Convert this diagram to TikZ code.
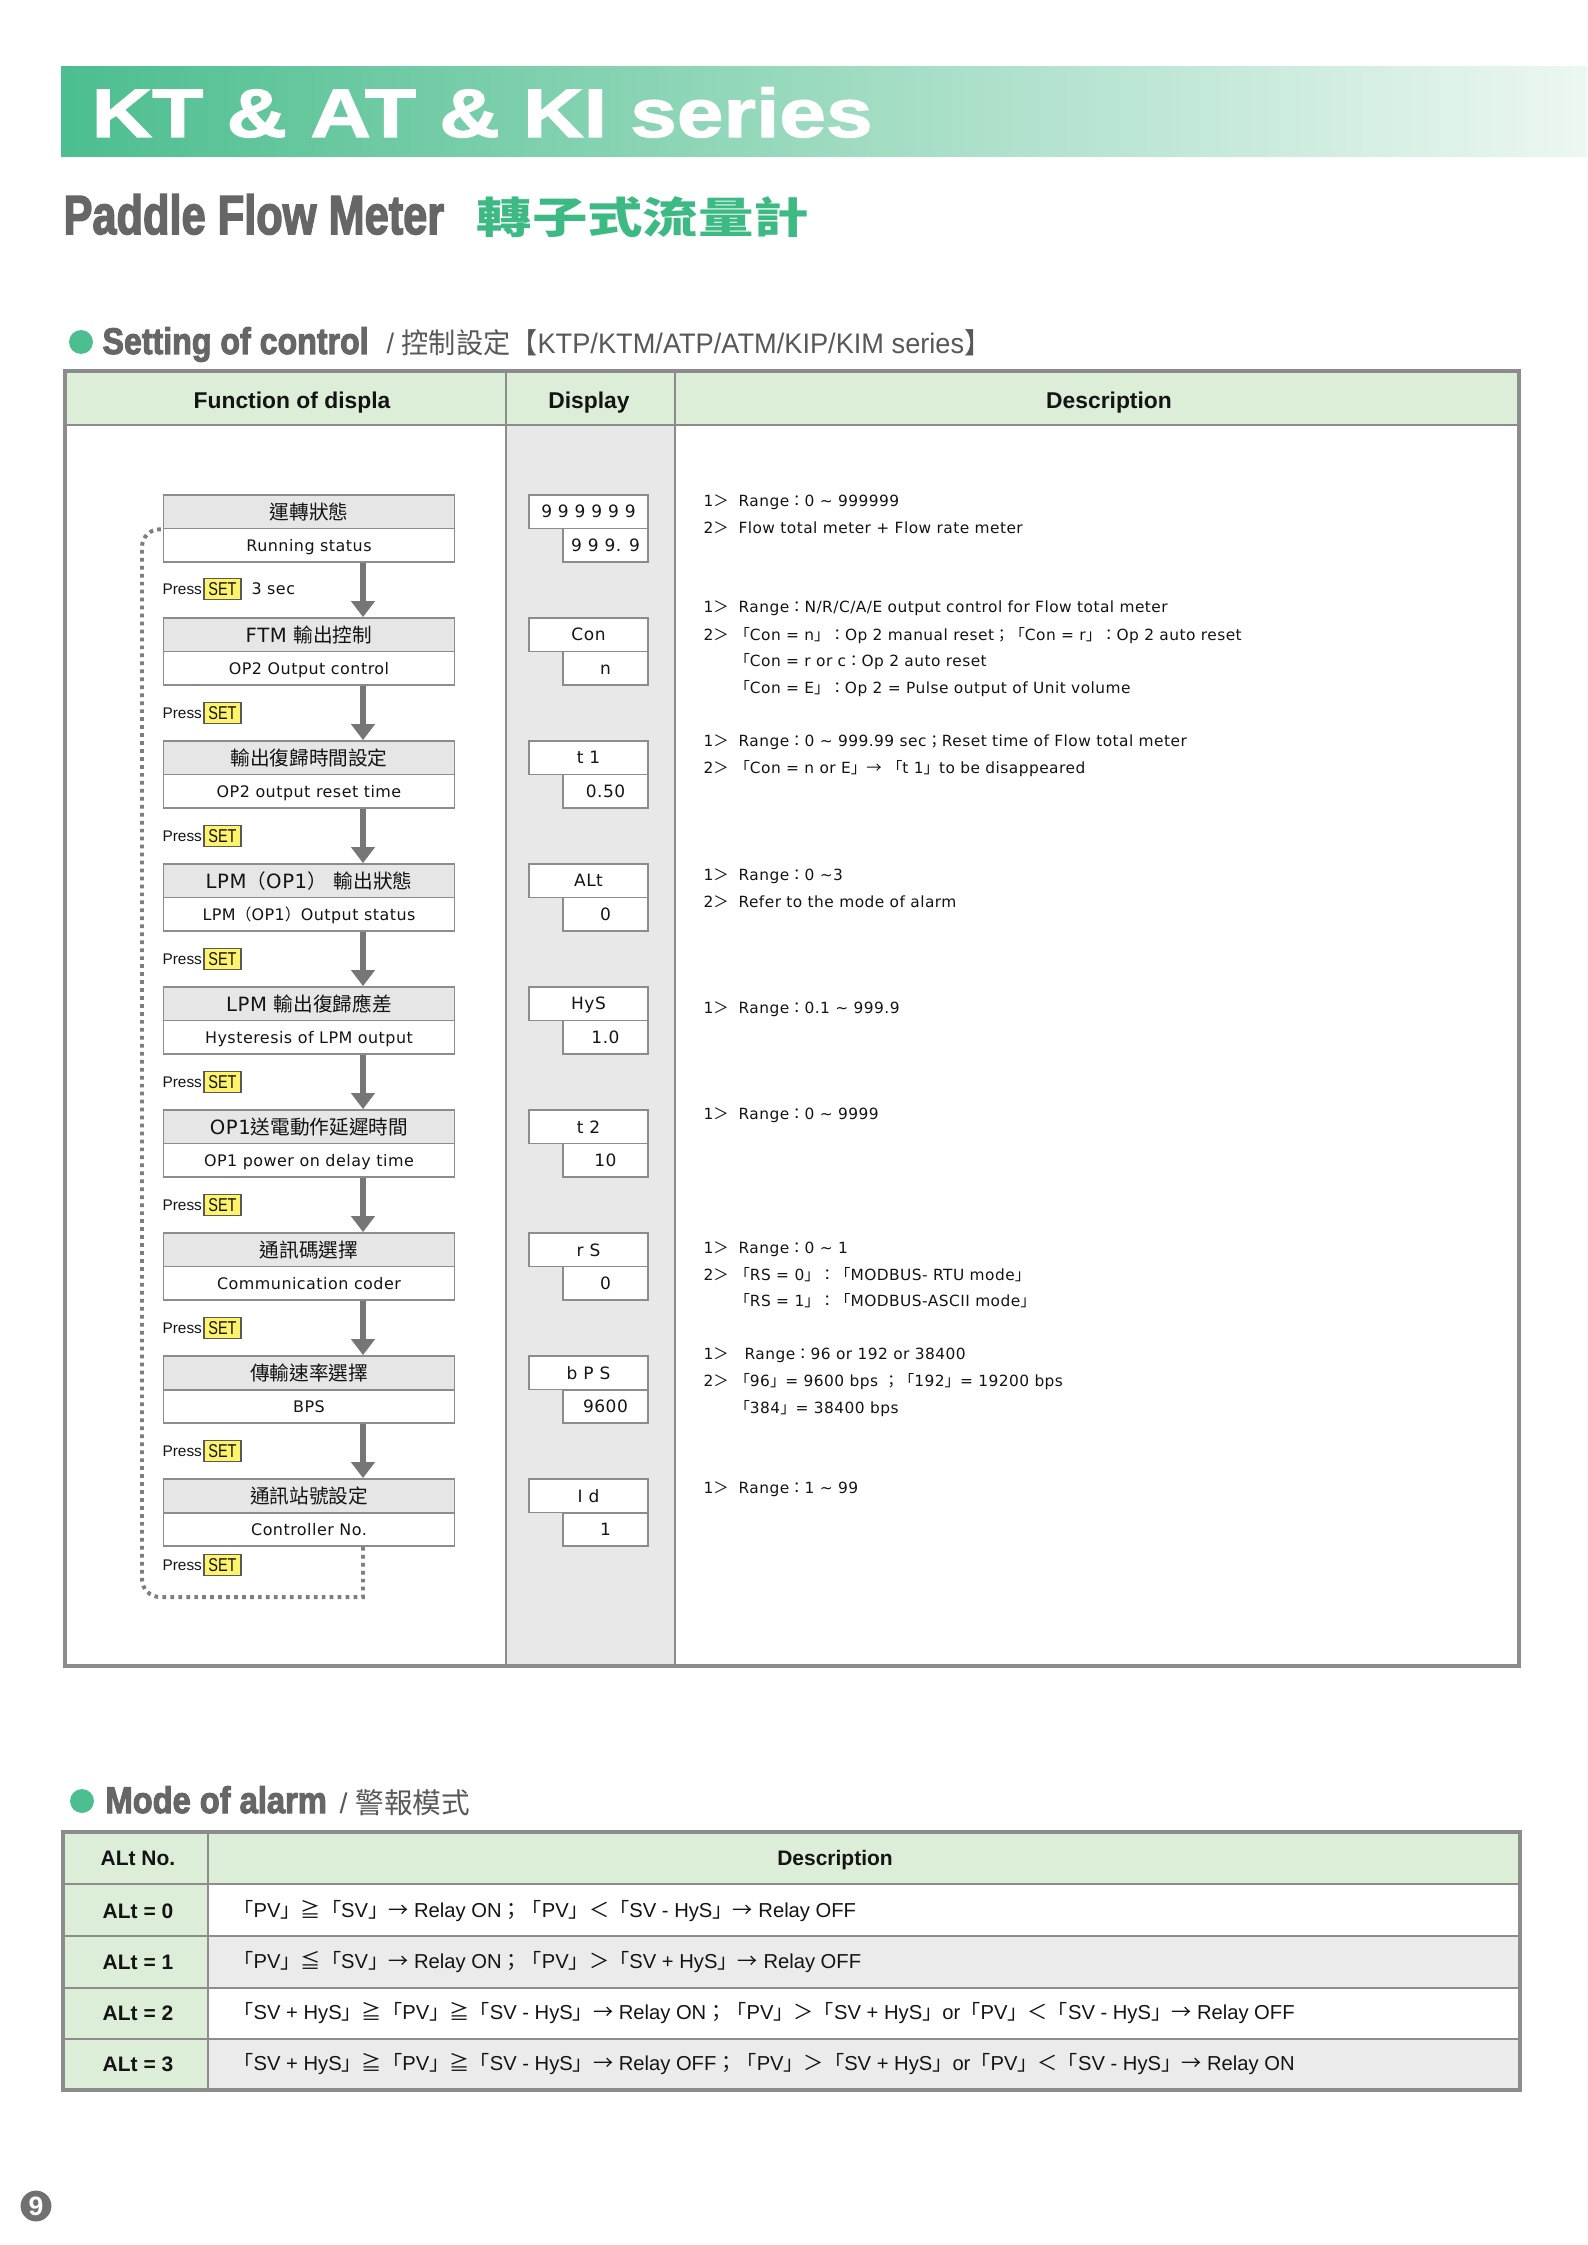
\documentclass[tikz,border=0pt]{standalone}
\usepackage{fontspec}
\usepackage{graphicx}
\usetikzlibrary{arrows.meta}
\setmainfont{DejaVu Sans}
\newfontfamily\cjkfont{Noto Sans CJK TC}
\newfontfamily\arialf{Liberation Sans}
\newfontfamily\gulf{DejaVu Sans}[LetterSpace=3]
\newfontfamily\heavyf{Liberation Sans}[FakeBold=1.5]
\newfontfamily\heavierf{Liberation Sans}[FakeBold=3]
\chardef\CJKcls=100
\newcount\cjkc
\newcommand\setcjkrange[2]{\cjkc=#1\relax\loop\XeTeXcharclass\cjkc=\CJKcls\relax\ifnum\cjkc<#2\relax\advance\cjkc by 1\relax\repeat}
\setcjkrange{"3000}{"303F}
\setcjkrange{"4E00}{"9FFF}
\setcjkrange{"FF00}{"FFEF}
\XeTeXcharclass"2266=\CJKcls
\XeTeXcharclass"2267=\CJKcls
\XeTeXcharclass"2192=\CJKcls
\XeTeXinterchartoks 0 \CJKcls={\begingroup\cjkfont}
\XeTeXinterchartoks 4095 \CJKcls={\begingroup\cjkfont}
\XeTeXinterchartoks \CJKcls 0={\endgroup}
\XeTeXinterchartoks \CJKcls 4095={\endgroup}
\newcommand\tld{\char"7E\relax}

\definecolor{bgray}{HTML}{8C8C8C}
\definecolor{loopgray}{HTML}{7E7E7E}
\definecolor{hgreen}{HTML}{DCEED8}
\definecolor{colgray}{HTML}{E8E8E8}
\definecolor{boxgray}{HTML}{E6E6E6}
\definecolor{arrgray}{HTML}{767676}
\definecolor{rowgray}{HTML}{EBEBEB}
\definecolor{setyel}{HTML}{FFF36B}
\definecolor{bannerL}{RGB}{76,190,143}
\definecolor{bannerR}{RGB}{236,247,241}
\definecolor{dotgreen}{RGB}{76,190,143}
\definecolor{titlegray}{HTML}{666666}
\definecolor{cjkgreen}{RGB}{61,186,132}
\definecolor{subgray}{HTML}{585858}
\definecolor{txt}{HTML}{141414}
\definecolor{pgray}{HTML}{707070}

\newcommand\fstep[6]{%
  \node[ftop] (t#1) at (309,#2+16.75) {#3};
  \node[fbot] (b#1) at (309,#2+50.25) {#4};
  \node[dtop] (u#1) at (588.5,#2+16.75) {#5};
  \node[dbot] (v#1) at (605.5,#2+50.25) {#6};}
\newcommand\pstep[2]{%
  \node[plbl] (p#1) at (162,#2+5.6) {Press};
  \node[setb] (s#1) at (222.5,#2) {\scalebox{0.78}[1]{SET}};}

\begin{document}
\XeTeXinterchartokenstate=1
\begin{tikzpicture}[x=0.132325mm,y=-0.132325mm,
  ftop/.style={draw=bgray,line width=0.7pt,fill=boxgray,minimum width=109.54pt,minimum height=12.57pt,inner sep=0pt,text height=5.6pt,text depth=0pt,text=txt,font=\gulf\fontsize{7.4pt}{8pt}\selectfont},
  fbot/.style={ftop,fill=white,text height=4.4pt,font=\gulf\fontsize{6pt}{7pt}\selectfont},
  dtop/.style={draw=bgray,line width=0.7pt,fill=white,minimum width=44.64pt,minimum height=12.57pt,inner sep=0pt,text height=4.7pt,text depth=0pt,text=txt,font=\gulf\fontsize{6.4pt}{7.5pt}\selectfont},
  dbot/.style={dtop,minimum width=31.89pt},
  farr/.style={draw=arrgray,line width=2.25pt,-{Triangle[width=8.63pt,length=6pt]}},
  loopl/.style={draw=loopgray,line width=1.5pt,dash pattern=on 1.4pt off 1.6pt},
  plbl/.style={anchor=base west,inner sep=0pt,text=txt,font=\arialf\fontsize{5.8pt}{7pt}\selectfont},
  setb/.style={draw=black!65,line width=0.45pt,fill=setyel,minimum width=13.88pt,minimum height=8.07pt,inner sep=0pt,text height=5pt,text depth=0pt,text=txt,font=\arialf\fontsize{7pt}{8pt}\selectfont},
  dsc/.style={anchor=base west,inner sep=0pt,text=txt,font=\gulf\fontsize{5.8pt}{6.8pt}\selectfont},
  hdr/.style={inner sep=0pt,text height=6.2pt,text depth=0pt,text=txt,font=\arialf\bfseries\fontsize{8.6pt}{10pt}\selectfont},
  alh/.style={inner sep=0pt,text height=5.7pt,text depth=0pt,text=txt,font=\arialf\bfseries\fontsize{7.9pt}{9pt}\selectfont},
  alr/.style={anchor=base west,inner sep=0pt,text=txt,font=\arialf\fontsize{7.6pt}{8.6pt}\selectfont},
  hd/.style={anchor=base west,inner sep=0pt}]
\useasboundingbox (0,0) rectangle (1587,2245);
\fill[white] (0,0) rectangle (1587,2245);

% ---------- banner and titles
\shade[left color=bannerL,right color=bannerR] (61,67) rectangle (1587,157);
\node[hd,text=white] (title) at (91,137) {\resizebox{294.1pt}{18.76pt}{\heavyf\bfseries KT \& AT \& KI series}};
\node[hd,text=titlegray] (sub) at (63,234) {\resizebox{143.3pt}{15pt}{\heavierf\bfseries Paddle Flow Meter}};
\node[hd,text=cjkgreen] (subzh) at (476,234) {\resizebox{125.3pt}{13.9pt}{\cjkfont\bfseries 轉子式流量計}};

% ---------- section 1 heading
\node[circle,fill=dotgreen,minimum size=9pt,inner sep=0pt] (dot1) at (81,342) {};
\node[hd,text=titlegray] (sec1) at (102,354) {\resizebox{100.2pt}{10.1pt}{\heavierf\bfseries Setting of control}};
\node[hd,text=subgray] (sec1b) at (386,354) {\resizebox{227.7pt}{9pt}{\arialf / 控制設定【KTP/KTM/ATP/ATM/KIP/KIM series】}};

% ---------- table 1 frame
\fill[hgreen] (65,371) rectangle (1519,425);
\fill[colgray] (506,425) rectangle (675,1666);
\draw[bgray,line width=0.75pt] (65,425) -- (1519,425);
\draw[bgray,line width=0.6pt] (506,371) -- (506,1666) (675,371) -- (675,1666);
\draw[bgray,line width=1.3pt] (65,371) rectangle (1519,1666);
\node[hdr] (hf) at (292,400) {Function of displa};
\node[hdr] (hdisp) at (589,400) {Display};
\node[hdr] (hdesc) at (1109,400) {Description};

% ---------- flow steps
\fstep{1}{495}{運轉狀態}{Running status}{9 9 9 9 9 9}{9 9 9. 9}
\fstep{2}{618}{FTM 輸出控制}{OP2 Output control}{Con}{n}
\fstep{3}{741}{輸出復歸時間設定}{OP2 output reset time}{t 1}{0.50}
\fstep{4}{864}{LPM（OP1） 輸出狀態}{LPM（OP1）Output status}{ALt}{0}
\fstep{5}{987}{LPM 輸出復歸應差}{Hysteresis of LPM output}{HyS}{1.0}
\fstep{6}{1110}{OP1送電動作延遲時間}{OP1 power on delay time}{t 2}{10}
\fstep{7}{1233}{通訊碼選擇}{Communication coder}{r S}{0}
\fstep{8}{1356}{傳輸速率選擇}{BPS}{b P S}{9600}
\fstep{9}{1479}{通訊站號設定}{Controller No.}{I d}{1}

\pstep{1}{589}
\node[plbl,font=\gulf\fontsize{6pt}{7pt}\selectfont] (p1s) at (251,594.6) {3 sec};
\pstep{2}{713}
\pstep{3}{836}
\pstep{4}{959}
\pstep{5}{1082}
\pstep{6}{1205}
\pstep{7}{1328}
\pstep{8}{1451}
\pstep{9}{1565}

\coordinate (ax) at (363,0);
\foreach \i [evaluate=\i as \j using int(\i+1)] in {1,...,8}
  \draw[farr] (b\i.south -| ax) -- (t\j.north -| ax);

\coordinate (lpA) at (363,1597);
\coordinate (lpB) at (142,1597);
\coordinate (lpC) at (142,529);
\draw[loopl] (b9.south -| ax) -- (lpA) [rounded corners=6.75pt] -- (lpB) -- (lpC) -- (t1.south west);

% ---------- descriptions
\node[dsc] (n11) at (703,506.5) {1＞};
\node[dsc] (d11) at (738,506.5) {Range：0 {\tld} 999999};
\node[dsc] (n12) at (703,533.5) {2＞};
\node[dsc] (d12) at (738,533.5) {Flow total meter + Flow rate meter};

\node[dsc] (n21) at (703,613) {1＞};
\node[dsc] (d21) at (738,613) {Range：N/R/C/A/E output control for Flow total meter};
\node[dsc] (n22) at (703,640) {2＞};
\node[dsc] (d22) at (734,640) {「Con = n」：Op 2 manual reset；「Con = r」：Op 2 auto reset};
\node[dsc] (d23) at (734,666.5) {「Con = r or c：Op 2 auto reset};
\node[dsc] (d24) at (734,693) {「Con = E」：Op 2 = Pulse output of Unit volume};

\node[dsc] (n31) at (703,746.5) {1＞};
\node[dsc] (d31) at (738,746.5) {Range：0 {\tld} 999.99 sec；Reset time of Flow total meter};
\node[dsc] (n32) at (703,773.5) {2＞};
\node[dsc] (d32) at (734,773.5) {「Con = n or E」→ 「t 1」to be disappeared};

\node[dsc] (n41) at (703,880) {1＞};
\node[dsc] (d41) at (738,880) {Range：0 {\tld}3};
\node[dsc] (n42) at (703,907) {2＞};
\node[dsc] (d42) at (738,907) {Refer to the mode of alarm};

\node[dsc] (n51) at (703,1013) {1＞};
\node[dsc] (d51) at (738,1013) {Range：0.1 {\tld} 999.9};

\node[dsc] (n61) at (703,1119.5) {1＞};
\node[dsc] (d61) at (738,1119.5) {Range：0 {\tld} 9999};

\node[dsc] (n71) at (703,1253) {1＞};
\node[dsc] (d71) at (738,1253) {Range：0 {\tld} 1};
\node[dsc] (n72) at (703,1280) {2＞};
\node[dsc] (d72) at (734,1280) {「RS = 0」：「MODBUS- RTU mode」};
\node[dsc] (d73) at (734,1306.5) {「RS = 1」：「MODBUS-ASCII mode」};

\node[dsc] (n81) at (703,1359.5) {1＞};
\node[dsc] (d81) at (744,1359.5) {Range：96 or 192 or 38400};
\node[dsc] (n82) at (703,1386.5) {2＞};
\node[dsc] (d82) at (734,1386.5) {「96」= 9600 bps ；「192」= 19200 bps};
\node[dsc] (d83) at (734,1413.5) {「384」= 38400 bps};

\node[dsc] (n91) at (703,1493) {1＞};
\node[dsc] (d91) at (738,1493) {Range：1 {\tld} 99};

% ---------- section 2 heading
\node[circle,fill=dotgreen,minimum size=9pt,inner sep=0pt] (dot2) at (82,1801) {};
\node[hd,text=titlegray] (sec2) at (105,1813) {\resizebox{83.3pt}{10.1pt}{\heavierf\bfseries Mode of alarm}};
\node[hd,text=subgray] (sec2b) at (339,1813) {\resizebox{49.1pt}{9pt}{\arialf / 警報模式}};

% ---------- table 2
\fill[hgreen] (63,1832) rectangle (1520,1884);
\fill[hgreen] (63,1884) rectangle (208,2090);
\fill[rowgray] (208,1936) rectangle (1520,1988);
\fill[rowgray] (208,2039) rectangle (1520,2090);
\draw[bgray,line width=0.75pt] (63,1884) -- (1520,1884) (63,1936) -- (1520,1936) (63,1988) -- (1520,1988) (63,2039) -- (1520,2039) (208,1832) -- (208,2090);
\draw[bgray,line width=1.3pt] (63,1832) rectangle (1520,2090);

\node[alh] (aln) at (138,1858) {ALt No.};
\node[alh] (ald) at (835,1858) {Description};
\node[alh] (al0) at (138,1911) {ALt = 0};
\node[alh] (al1) at (138,1962) {ALt = 1};
\node[alh] (al2) at (138,2013) {ALt = 2};
\node[alh] (al3) at (138,2064) {ALt = 3};
\node[alr] (r0) at (233,1917.7) {「PV」≧「SV」→ Relay ON；「PV」＜「SV - HyS」→ Relay OFF};
\node[alr] (r1) at (233,1968.7) {「PV」≦「SV」→ Relay ON；「PV」＞「SV + HyS」→ Relay OFF};
\node[alr] (r2) at (233,2019.7) {「SV + HyS」≧「PV」≧「SV - HyS」→ Relay ON；「PV」＞「SV + HyS」or「PV」＜「SV - HyS」→ Relay OFF};
\node[alr] (r3) at (233,2070.7) {「SV + HyS」≧「PV」≧「SV - HyS」→ Relay OFF；「PV」＞「SV + HyS」or「PV」＜「SV - HyS」→ Relay ON};

% ---------- page number
\node[circle,fill=pgray,minimum size=11.6pt,inner sep=0pt,text=white,font=\arialf\bfseries\fontsize{10pt}{12pt}\selectfont] (pg) at (36,2206) {9};
\end{tikzpicture}
\end{document}
